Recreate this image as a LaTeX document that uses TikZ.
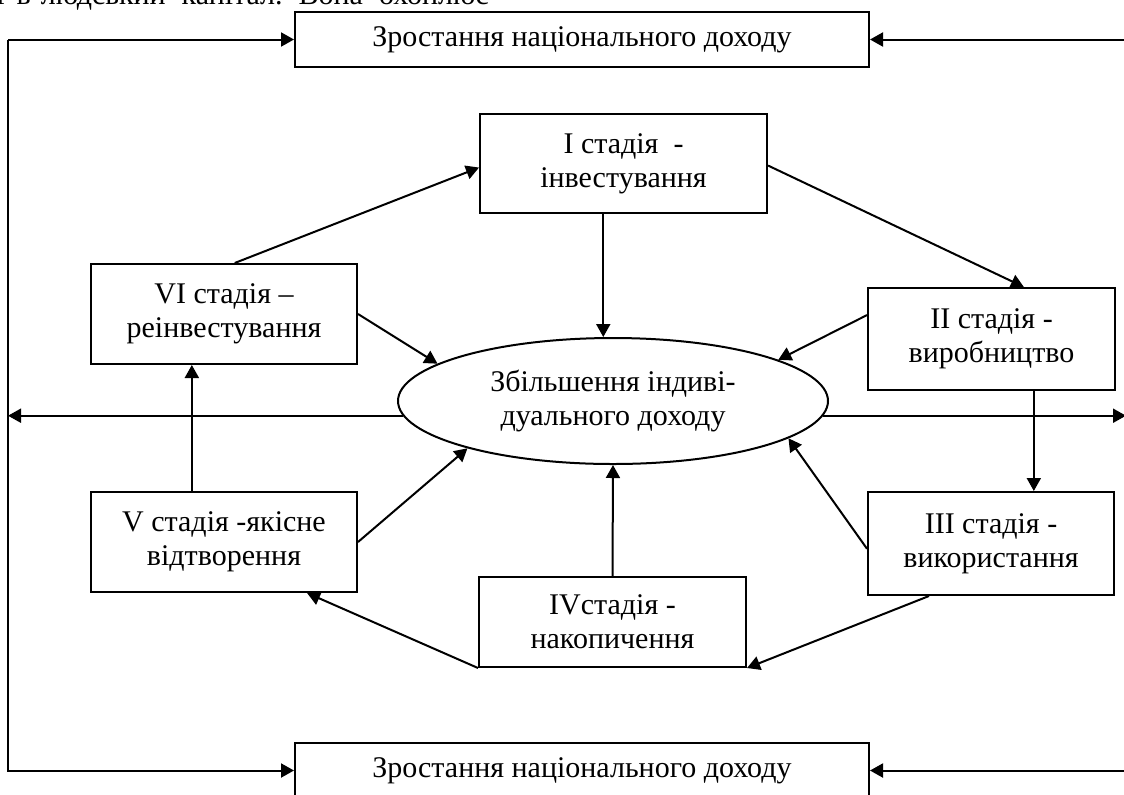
\documentclass[tikz,border=0pt]{standalone}
\usepackage{fontspec}
\setmainfont{Liberation Serif}
\usetikzlibrary{arrows.meta,shapes.geometric,calc}
\tikzset{
  txt/.style={font=\fontsize{15}{17}\selectfont},
  box/.style={draw,line width=1pt,inner sep=0pt,align=center,txt},
  oval/.style={draw,ellipse,line width=1pt,inner sep=0pt,align=center,txt},
  arr/.style={line width=1pt,-{Triangle[length=6.5pt,width=7pt]}},
}
\begin{document}
\begin{tikzpicture}[x=0.5pt,y=-0.5pt]
\useasboundingbox (0,0) rectangle (1124,794);
\clip (0,0) rectangle (1124,794);
\node[anchor=base west,txt,inner sep=0pt] (cut) at (-4,4) {ї\hspace{6pt}в\hspace{5pt}людський\hspace{8pt}капітал.\hspace{8pt}Вона\hspace{8pt}охоплює};
\coordinate (lx) at (8,0);
\coordinate (rx) at (1126,0);
\node[box,minimum width=287pt,minimum height=27.5pt] (top) at (582,39.5) {Зростання національного доходу};
\node[box,minimum width=287pt,minimum height=27.5pt] (bot) at (582,770.5) {Зростання національного доходу};
\node[box,minimum width=143.5pt,minimum height=49.5pt] (i) at (623.5,163.5) {I стадія\ \ -\\інвестування};
\node[box,minimum width=123.5pt,minimum height=51pt] (ii) at (991.5,339) {II стадія -\\виробництво};
\node[box,minimum width=123pt,minimum height=51.5pt] (iii) at (991,543.5) {III стадія -\\використання};
\node[box,minimum width=133.5pt,minimum height=45pt] (iv) at (612.5,622) {IVстадія -\\накопичення};
\node[box,minimum width=133pt,minimum height=50pt] (v) at (224,542) {V стадія -якісне\\відтворення};
\node[box,minimum width=133pt,minimum height=50pt] (vi) at (224,314) {VI стадія --\\реінвестування};
\node[oval,minimum width=215pt,minimum height=63pt] (ell) at (613,401) {Збільшення індиві-\\дуального доходу};
% outer loop
\draw[arr] (top.west -| lx) -- (bot.west -| lx) -- (bot.west);
\draw[arr] (top.west -| lx) -- (top.west);
\draw[arr] (top.east -| rx) -- (top.east);
\draw[arr] (bot.east -| rx) -- (bot.east);
\draw[arr] (ell.184) -- (ell.184 -| lx);
\draw[arr] (ell.-4) -- (ell.-4 -| rx);
% cycle
\draw[arr] ($(vi.north west)!0.54!(vi.north east)$) -- ($(i.north west)!0.54!(i.south west)$);
\draw[arr] ($(i.north east)!0.52!(i.south east)$) -- ($(ii.north west)!0.63!(ii.north east)$);
\draw[arr] ($(ii.south west)!0.67!(ii.south east)$) coordinate (a2) -- (a2 |- iii.north);
\draw[arr] ($(iii.south west)!0.25!(iii.south east)$) -- (iv.south east);
\draw[arr] (iv.south west) -- ($(v.south west)!0.81!(v.south east)$);
\draw[arr] ($(v.north west)!0.38!(v.north east)$) coordinate (a5) -- (a5 |- vi.south);
% to ellipse
\draw[arr] ($(i.south west)!0.43!(i.south east)$) coordinate (a1) -- (a1 |- ell.north);
\draw[arr] (vi.east) -- (ell.168);
\draw[arr] ($(ii.north west)!0.27!(ii.south west)$) -- (ell.14);
\draw[arr] ($(iii.north west)!0.55!(iii.south west)$) -- (ell.-12);
\draw[arr] (iv.north) -- (ell.south);
\draw[arr] (v.east) -- (ell.198);
\end{tikzpicture}
\end{document}
